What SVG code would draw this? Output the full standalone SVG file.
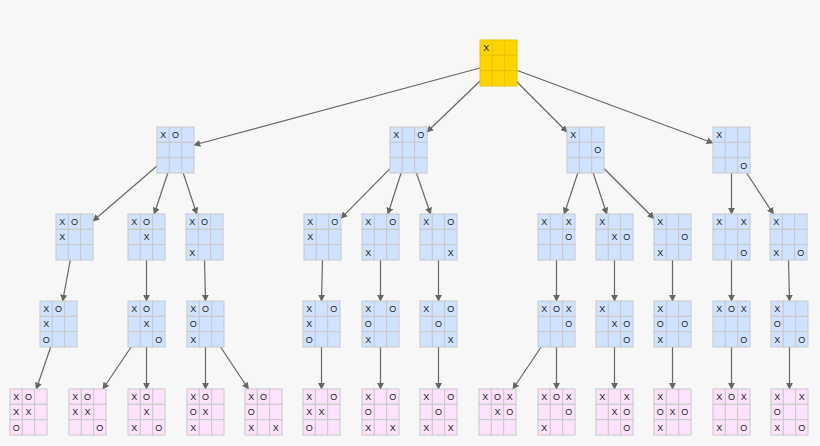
<svg xmlns="http://www.w3.org/2000/svg" xmlns:xlink="http://www.w3.org/1999/xlink" width="820" height="446" viewBox="0 0 820 446">
<style>
.b{fill:#cfe2ff;stroke:#c8c8c8}.p{fill:#fde2fb;stroke:#c8c8c8}.g{fill:#ffd400;stroke:#e8c500}
text{font-family:"Liberation Sans",Arial,sans-serif;font-size:9px;fill:#222;stroke:none;text-anchor:middle}
.e line{stroke:#666;stroke-width:1.2;marker-end:url(#ah)}
</style>
<defs>
<marker id="ah" viewBox="0 0 10 10" refX="9" refY="5" markerWidth="7" markerHeight="7" orient="auto" markerUnits="userSpaceOnUse"><path d="M0,0L10,5L0,10z" fill="#666" stroke="none"/></marker>
<g id="grid" stroke-width="1">
<rect x="0" y="0" width="12.33" height="15.33"/><rect x="12.33" y="0" width="12.33" height="15.33"/><rect x="24.67" y="0" width="12.33" height="15.33"/>
<rect x="0" y="15.33" width="12.33" height="15.33"/><rect x="12.33" y="15.33" width="12.33" height="15.33"/><rect x="24.67" y="15.33" width="12.33" height="15.33"/>
<rect x="0" y="30.67" width="12.33" height="15.33"/><rect x="12.33" y="30.67" width="12.33" height="15.33"/><rect x="24.67" y="30.67" width="12.33" height="15.33"/>
</g>
</defs>
<rect width="820" height="446" fill="#f7f7f7"/>
<g class="e" id="edges">
<line x1="480" y1="68" x2="194" y2="145"/>
<line x1="480" y1="81" x2="427" y2="132"/>
<line x1="516" y1="81" x2="567" y2="132"/>
<line x1="516" y1="70" x2="713" y2="143"/>
<line x1="157" y1="166" x2="93" y2="221"/>
<line x1="167.8" y1="173" x2="154.2" y2="214"/>
<line x1="183.2" y1="173" x2="196.8" y2="214"/>
<line x1="390" y1="168.7" x2="341" y2="218.3"/>
<line x1="401.1" y1="173" x2="387.9" y2="214"/>
<line x1="416.4" y1="173" x2="430.6" y2="214"/>
<line x1="577.8" y1="173" x2="564.2" y2="214"/>
<line x1="593.2" y1="173" x2="606.8" y2="214"/>
<line x1="604" y1="168.5" x2="654" y2="218.5"/>
<line x1="731.5" y1="173" x2="731.5" y2="214"/>
<line x1="746.6" y1="173" x2="773.4" y2="214"/>
<line x1="70.3" y1="260" x2="62.7" y2="301"/>
<line x1="146.5" y1="260" x2="146.5" y2="301"/>
<line x1="204.5" y1="260" x2="205.5" y2="301"/>
<line x1="322.5" y1="260" x2="321.5" y2="301"/>
<line x1="380.5" y1="260" x2="380.5" y2="301"/>
<line x1="438.5" y1="260" x2="438.5" y2="301"/>
<line x1="556.5" y1="260" x2="556.5" y2="301"/>
<line x1="614.5" y1="260" x2="614.5" y2="301"/>
<line x1="672.5" y1="260" x2="672.5" y2="301"/>
<line x1="731.5" y1="260" x2="731.5" y2="301"/>
<line x1="788.5" y1="260" x2="789.5" y2="301"/>
<line x1="50.7" y1="347" x2="36.3" y2="389"/>
<line x1="131.1" y1="347" x2="102.9" y2="389"/>
<line x1="146.5" y1="347" x2="146.5" y2="389"/>
<line x1="205.5" y1="347" x2="205.5" y2="389"/>
<line x1="220.6" y1="347" x2="248.4" y2="389"/>
<line x1="321.5" y1="347" x2="321.5" y2="389"/>
<line x1="380.5" y1="347" x2="380.5" y2="389"/>
<line x1="438.5" y1="347" x2="438.5" y2="389"/>
<line x1="541.1" y1="347" x2="512.9" y2="389"/>
<line x1="556.5" y1="347" x2="556.5" y2="389"/>
<line x1="614.5" y1="347" x2="614.5" y2="389"/>
<line x1="672.5" y1="347" x2="672.5" y2="389"/>
<line x1="731.5" y1="347" x2="731.5" y2="389"/>
<line x1="789.5" y1="347" x2="789.5" y2="389"/>
</g>
<g id="root" class="g" transform="translate(480,40)"><use xlink:href="#grid"/><text x="6.2" y="11">X</text></g>
<g id="a" class="b" transform="translate(157,127)"><use xlink:href="#grid"/><text x="6.2" y="11">X</text><text x="18.5" y="11">O</text></g>
<g id="b" class="b" transform="translate(390,127)"><use xlink:href="#grid"/><text x="6.2" y="11">X</text><text x="30.8" y="11">O</text></g>
<g id="c" class="b" transform="translate(567,127)"><use xlink:href="#grid"/><text x="6.2" y="11">X</text><text x="30.8" y="26.3">O</text></g>
<g id="d" class="b" transform="translate(713,127)"><use xlink:href="#grid"/><text x="6.2" y="11">X</text><text x="30.8" y="41.7">O</text></g>
<g id="a1" class="b" transform="translate(56,214)"><use xlink:href="#grid"/><text x="6.2" y="11">X</text><text x="18.5" y="11">O</text><text x="6.2" y="26.3">X</text></g>
<g id="a2" class="b" transform="translate(128,214)"><use xlink:href="#grid"/><text x="6.2" y="11">X</text><text x="18.5" y="11">O</text><text x="18.5" y="26.3">X</text></g>
<g id="a3" class="b" transform="translate(186,214)"><use xlink:href="#grid"/><text x="6.2" y="11">X</text><text x="18.5" y="11">O</text><text x="6.2" y="41.7">X</text></g>
<g id="b1" class="b" transform="translate(304,214)"><use xlink:href="#grid"/><text x="6.2" y="11">X</text><text x="30.8" y="11">O</text><text x="6.2" y="26.3">X</text></g>
<g id="b2" class="b" transform="translate(362,214)"><use xlink:href="#grid"/><text x="6.2" y="11">X</text><text x="30.8" y="11">O</text><text x="6.2" y="41.7">X</text></g>
<g id="b3" class="b" transform="translate(420,214)"><use xlink:href="#grid"/><text x="6.2" y="11">X</text><text x="30.8" y="11">O</text><text x="30.8" y="41.7">X</text></g>
<g id="c1" class="b" transform="translate(538,214)"><use xlink:href="#grid"/><text x="6.2" y="11">X</text><text x="30.8" y="11">X</text><text x="30.8" y="26.3">O</text></g>
<g id="c2" class="b" transform="translate(596,214)"><use xlink:href="#grid"/><text x="6.2" y="11">X</text><text x="18.5" y="26.3">X</text><text x="30.8" y="26.3">O</text></g>
<g id="c3" class="b" transform="translate(654,214)"><use xlink:href="#grid"/><text x="6.2" y="11">X</text><text x="30.8" y="26.3">O</text><text x="6.2" y="41.7">X</text></g>
<g id="d1" class="b" transform="translate(713,214)"><use xlink:href="#grid"/><text x="6.2" y="11">X</text><text x="30.8" y="11">X</text><text x="30.8" y="41.7">O</text></g>
<g id="d2" class="b" transform="translate(770,214)"><use xlink:href="#grid"/><text x="6.2" y="11">X</text><text x="6.2" y="41.7">X</text><text x="30.8" y="41.7">O</text></g>
<g id="a1x" class="b" transform="translate(40,301)"><use xlink:href="#grid"/><text x="6.2" y="11">X</text><text x="18.5" y="11">O</text><text x="6.2" y="26.3">X</text><text x="6.2" y="41.7">O</text></g>
<g id="a2x" class="b" transform="translate(128,301)"><use xlink:href="#grid"/><text x="6.2" y="11">X</text><text x="18.5" y="11">O</text><text x="18.5" y="26.3">X</text><text x="30.8" y="41.7">O</text></g>
<g id="a3x" class="b" transform="translate(187,301)"><use xlink:href="#grid"/><text x="6.2" y="11">X</text><text x="18.5" y="11">O</text><text x="6.2" y="26.3">O</text><text x="6.2" y="41.7">X</text></g>
<g id="b1x" class="b" transform="translate(303,301)"><use xlink:href="#grid"/><text x="6.2" y="11">X</text><text x="30.8" y="11">O</text><text x="6.2" y="26.3">X</text><text x="6.2" y="41.7">O</text></g>
<g id="b2x" class="b" transform="translate(362,301)"><use xlink:href="#grid"/><text x="6.2" y="11">X</text><text x="30.8" y="11">O</text><text x="6.2" y="26.3">O</text><text x="6.2" y="41.7">X</text></g>
<g id="b3x" class="b" transform="translate(420,301)"><use xlink:href="#grid"/><text x="6.2" y="11">X</text><text x="30.8" y="11">O</text><text x="18.5" y="26.3">O</text><text x="30.8" y="41.7">X</text></g>
<g id="c1x" class="b" transform="translate(538,301)"><use xlink:href="#grid"/><text x="6.2" y="11">X</text><text x="18.5" y="11">O</text><text x="30.8" y="11">X</text><text x="30.8" y="26.3">O</text></g>
<g id="c2x" class="b" transform="translate(596,301)"><use xlink:href="#grid"/><text x="6.2" y="11">X</text><text x="18.5" y="26.3">X</text><text x="30.8" y="26.3">O</text><text x="30.8" y="41.7">O</text></g>
<g id="c3x" class="b" transform="translate(654,301)"><use xlink:href="#grid"/><text x="6.2" y="11">X</text><text x="6.2" y="26.3">O</text><text x="30.8" y="26.3">O</text><text x="6.2" y="41.7">X</text></g>
<g id="d1x" class="b" transform="translate(713,301)"><use xlink:href="#grid"/><text x="6.2" y="11">X</text><text x="18.5" y="11">O</text><text x="30.8" y="11">X</text><text x="30.8" y="41.7">O</text></g>
<g id="d2x" class="b" transform="translate(771,301)"><use xlink:href="#grid"/><text x="6.2" y="11">X</text><text x="6.2" y="26.3">O</text><text x="6.2" y="41.7">X</text><text x="30.8" y="41.7">O</text></g>
<g id="l1" class="p" transform="translate(10,389)"><use xlink:href="#grid"/><text x="6.2" y="11">X</text><text x="18.5" y="11">O</text><text x="6.2" y="26.3">X</text><text x="18.5" y="26.3">X</text><text x="6.2" y="41.7">O</text></g>
<g id="l2" class="p" transform="translate(69,389)"><use xlink:href="#grid"/><text x="6.2" y="11">X</text><text x="18.5" y="11">O</text><text x="6.2" y="26.3">X</text><text x="18.5" y="26.3">X</text><text x="30.8" y="41.7">O</text></g>
<g id="l3" class="p" transform="translate(128,389)"><use xlink:href="#grid"/><text x="6.2" y="11">X</text><text x="18.5" y="11">O</text><text x="18.5" y="26.3">X</text><text x="6.2" y="41.7">X</text><text x="30.8" y="41.7">O</text></g>
<g id="l4" class="p" transform="translate(187,389)"><use xlink:href="#grid"/><text x="6.2" y="11">X</text><text x="18.5" y="11">O</text><text x="6.2" y="26.3">O</text><text x="18.5" y="26.3">X</text><text x="6.2" y="41.7">X</text></g>
<g id="l5" class="p" transform="translate(245,389)"><use xlink:href="#grid"/><text x="6.2" y="11">X</text><text x="18.5" y="11">O</text><text x="6.2" y="26.3">O</text><text x="6.2" y="41.7">X</text><text x="30.8" y="41.7">X</text></g>
<g id="l6" class="p" transform="translate(303,389)"><use xlink:href="#grid"/><text x="6.2" y="11">X</text><text x="30.8" y="11">O</text><text x="6.2" y="26.3">X</text><text x="18.5" y="26.3">X</text><text x="6.2" y="41.7">O</text></g>
<g id="l7" class="p" transform="translate(362,389)"><use xlink:href="#grid"/><text x="6.2" y="11">X</text><text x="30.8" y="11">O</text><text x="6.2" y="26.3">O</text><text x="6.2" y="41.7">X</text><text x="30.8" y="41.7">X</text></g>
<g id="l8" class="p" transform="translate(420,389)"><use xlink:href="#grid"/><text x="6.2" y="11">X</text><text x="30.8" y="11">O</text><text x="18.5" y="26.3">O</text><text x="6.2" y="41.7">X</text><text x="30.8" y="41.7">X</text></g>
<g id="l9" class="p" transform="translate(479,389)"><use xlink:href="#grid"/><text x="6.2" y="11">X</text><text x="18.5" y="11">O</text><text x="30.8" y="11">X</text><text x="18.5" y="26.3">X</text><text x="30.8" y="26.3">O</text></g>
<g id="l10" class="p" transform="translate(538,389)"><use xlink:href="#grid"/><text x="6.2" y="11">X</text><text x="18.5" y="11">O</text><text x="30.8" y="11">X</text><text x="30.8" y="26.3">O</text><text x="6.2" y="41.7">X</text></g>
<g id="l11" class="p" transform="translate(596,389)"><use xlink:href="#grid"/><text x="6.2" y="11">X</text><text x="30.8" y="11">X</text><text x="18.5" y="26.3">X</text><text x="30.8" y="26.3">O</text><text x="30.8" y="41.7">O</text></g>
<g id="l12" class="p" transform="translate(654,389)"><use xlink:href="#grid"/><text x="6.2" y="11">X</text><text x="6.2" y="26.3">O</text><text x="18.5" y="26.3">X</text><text x="30.8" y="26.3">O</text><text x="6.2" y="41.7">X</text></g>
<g id="l13" class="p" transform="translate(713,389)"><use xlink:href="#grid"/><text x="6.2" y="11">X</text><text x="18.5" y="11">O</text><text x="30.8" y="11">X</text><text x="6.2" y="41.7">X</text><text x="30.8" y="41.7">O</text></g>
<g id="l14" class="p" transform="translate(771,389)"><use xlink:href="#grid"/><text x="6.2" y="11">X</text><text x="30.8" y="11">X</text><text x="6.2" y="26.3">O</text><text x="6.2" y="41.7">X</text><text x="30.8" y="41.7">O</text></g>
</svg>
